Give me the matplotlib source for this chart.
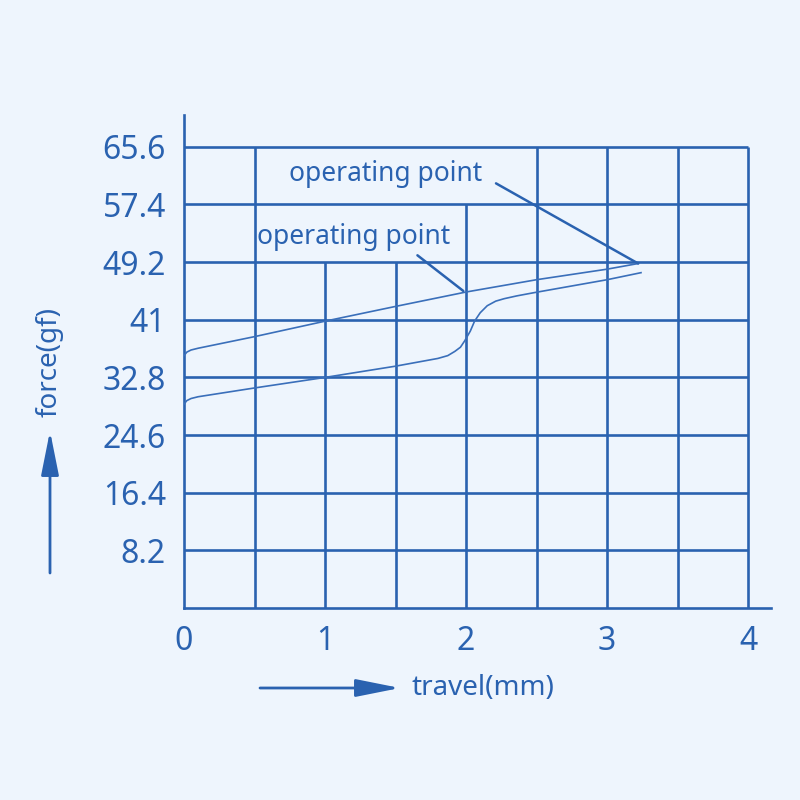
import matplotlib
matplotlib.use('Agg')
import matplotlib.pyplot as plt
from matplotlib.patches import FancyArrowPatch

plt.rcParams['font.family'] = ['Noto Sans', 'DejaVu Sans']

# data
travel_upper = [0.0, 0.02, 0.05, 0.1, 0.5, 1.0, 1.5, 2.0, 2.5, 3.0, 3.22]
force_upper = [35.9, 36.4, 36.7, 36.95, 38.6, 40.8, 42.9, 44.95, 46.7, 48.2, 49.0]

travel_lower = [0.0, 0.02, 0.05, 0.1, 0.5, 1.0, 1.5, 1.8, 1.87, 1.92, 1.96, 1.99,
                2.03, 2.06, 2.1, 2.15, 2.21, 2.27, 2.36, 2.48, 3.0, 3.24]
force_lower = [29.0, 29.5, 29.8, 30.05, 31.3, 32.8, 34.4, 35.5, 35.9, 36.5, 37.1, 38.0,
               39.4, 40.8, 42.0, 43.0, 43.65, 44.0, 44.4, 44.85, 46.7, 47.7]

x_ticks = [0, 1, 2, 3, 4]
y_ticks = [8.2, 16.4, 24.6, 32.8, 41, 49.2, 57.4, 65.6]
y_labels = ['8.2', '16.4', '24.6', '32.8', '41', '49.2', '57.4', '65.6']
grid_x = [0.5, 1.0, 1.5, 2.0, 2.5, 3.0, 3.5, 4.0]
grid_x_top = [65.6, 49.2, 49.2, 57.4, 65.6, 65.6, 65.6, 65.6]

blue = '#2a62b0'
bg = '#eef5fd'

fig = plt.figure(figsize=(8, 8), dpi=100, facecolor=bg)
ax = fig.add_axes([0.23, 0.24, 0.734, 0.616], facecolor=bg)
ax.set_xlim(0, 4.163)
ax.set_ylim(0, 70.1)

# grid
ax.hlines(y_ticks, 0, 4, color=blue, lw=1.9, zorder=1)
ax.vlines(grid_x, 0, grid_x_top, color=blue, lw=1.9, zorder=1)

for s in ['top', 'right']:
    ax.spines[s].set_visible(False)
for s in ['left', 'bottom']:
    ax.spines[s].set_color(blue)
    ax.spines[s].set_linewidth(1.9)

# curves
ax.plot(travel_upper, force_upper, color='#3a6fba', lw=1.2, zorder=3)
ax.plot(travel_lower, force_lower, color='#3a6fba', lw=1.2, zorder=3)

ax.set_xticks(x_ticks)
ax.set_xticklabels([str(v) for v in x_ticks])
ax.set_yticks(y_ticks)
ax.set_yticklabels(y_labels)
ax.tick_params(axis='both', length=0, colors=blue, labelsize=23)
ax.tick_params(axis='x', pad=12)
ax.tick_params(axis='y', pad=13)

# operating point labels
ax.annotate('operating point', xy=(travel_upper[-1], force_upper[-1]),
            xytext=(0.745, 61.7), ha='left', va='center', color=blue, fontsize=19,
            arrowprops=dict(arrowstyle='-', color=blue, lw=1.8,
                            relpos=(1, 0.45), shrinkA=9, shrinkB=0), zorder=4)
ax.annotate('operating point', xy=(1.98, 45.1),
            xytext=(0.518, 52.8), ha='left', va='center', color=blue, fontsize=19,
            arrowprops=dict(arrowstyle='-', color=blue, lw=1.8,
                            relpos=(0.8, 0), shrinkA=2, shrinkB=0), zorder=4)

# axis captions with arrows
fig.text(50 / 800, 1 - 362 / 800, 'force(gf)', rotation=90, ha='center', va='center',
         color=blue, fontsize=20)
fig.text(411 / 800, 1 - 688 / 800, 'travel(mm)', ha='left', va='center',
         color=blue, fontsize=20)

arr_y = FancyArrowPatch((50 / 800, 1 - 573 / 800), (50 / 800, 1 - 431 / 800),
                        transform=fig.transFigure, arrowstyle='-|>,head_length=1.8,head_width=0.36',
                        mutation_scale=15, color=blue, lw=2.0, shrinkA=0, shrinkB=0)
arr_x = FancyArrowPatch((260 / 800, 1 - 688 / 800), (400 / 800, 1 - 688 / 800),
                        transform=fig.transFigure, arrowstyle='-|>,head_length=1.8,head_width=0.36',
                        mutation_scale=15, color=blue, lw=2.0, shrinkA=0, shrinkB=0)
fig.patches.extend([arr_y, arr_x])

plt.savefig('out.png', dpi=100, facecolor=bg)
